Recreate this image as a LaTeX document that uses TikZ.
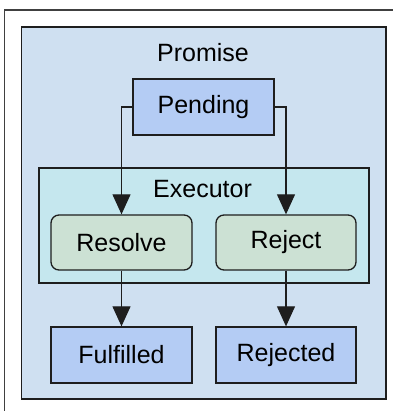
\documentclass[tikz,border=0pt]{standalone}
\usepackage{fontspec}
\setmainfont{Liberation Sans}
\usepackage{tikz}
\usetikzlibrary{arrows.meta}

\definecolor{promisebg}{RGB}{207,224,241}
\definecolor{statebg}{RGB}{180,204,244}
\definecolor{executorbg}{RGB}{197,231,238}
\definecolor{handlerbg}{RGB}{204,225,212}
\definecolor{linecol}{RGB}{30,30,30}

\begin{document}
\begin{tikzpicture}[x=1pt, y=1pt,
		font=\fontsize{25}{30}\selectfont,
		statebox/.style={draw=linecol, line width=1.3pt, fill=statebg, minimum width=141pt, minimum height=56pt, inner sep=0pt},
		handlerbox/.style={draw=linecol, line width=1.3pt, fill=handlerbg, rounded corners=8pt, minimum width=141pt, minimum height=55pt, inner sep=0pt},
		flow/.style={draw=linecol, line width=1.1pt}]
			%%%%% START %%%%%
			
			\useasboundingbox (0, 0) rectangle (393, 411);
			
			\draw[line width=1.3pt, color=black!75] (4.5, 0) -- (4.5, 401) -- (393, 401);
			
			\draw[draw=linecol, line width=1.3pt, fill=promisebg] (21.5, 12) rectangle (386, 384);
			\node[anchor=base] (promiselabel) at (203, 349) {Promise};
			
			\node[statebox] (pending) at (203.5, 304) {Pending};
			
			\draw[draw=linecol, line width=1.3pt, fill=executorbg] (39, 128) rectangle (369, 243);
			\node[anchor=base] (executorlabel) at (202.5, 213) {Executor};
			
			\node[handlerbox] (resolve) at (121.5, 168.5) {Resolve};
			\node[handlerbox, minimum width=140pt] (reject) at (286, 168.5) {Reject};
			
			\node[statebox] (fulfilled) at (121.5, 56) {Fulfilled};
			\node[statebox, minimum width=140pt] (rejected) at (286, 56) {Rejected};
			
			\draw[flow, -{Triangle[length=20pt, width=18pt]}] (pending.west) -| (resolve.north);
			\draw[flow, -{Triangle[length=20pt, width=18pt]}] (pending.east) -| (reject.north);
			\draw[flow, -{Triangle[length=20pt, width=18pt]}] (resolve.south) -- (fulfilled.north);
			\draw[flow, -{Triangle[length=20pt, width=18pt]}] (reject.south) -- (rejected.north);
			
			%%%%% END %%%%%
		\end{tikzpicture}
\end{document}
